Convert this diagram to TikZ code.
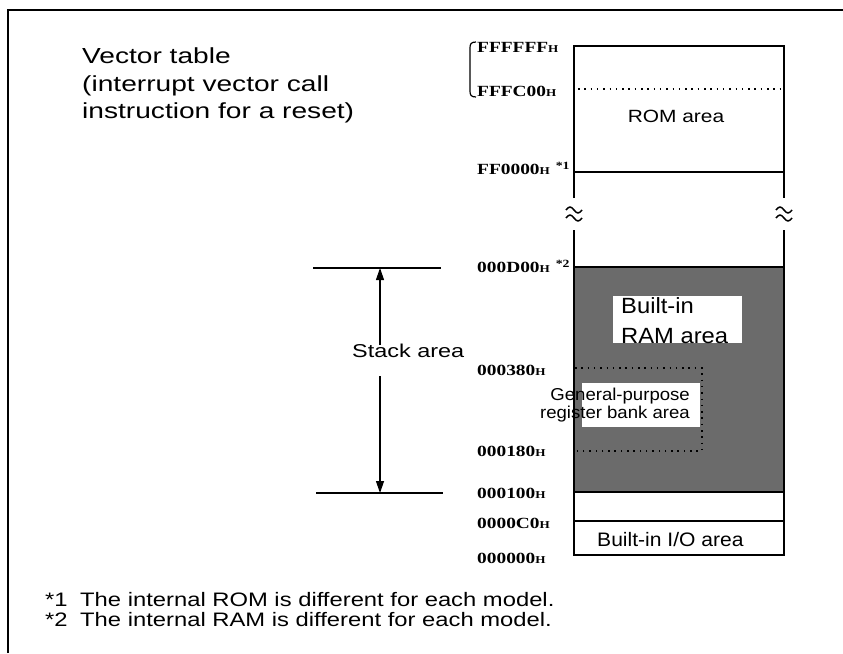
\documentclass[tikz,border=0pt]{standalone}
\usepackage{fontspec}
\setmainfont{Liberation Sans}
\newfontfamily\fVec[FakeStretch=1.29]{Liberation Sans}
\newfontfamily\fStack[FakeStretch=1.26]{Liberation Sans}
\newfontfamily\fRom[FakeStretch=1.18]{Liberation Sans}
\newfontfamily\fBox[FakeStretch=1.08]{Liberation Sans}
\newfontfamily\fNote[FakeStretch=1.22]{Liberation Sans}
\newfontfamily\fAddr[FakeStretch=1.25]{Liberation Serif Bold}
\usetikzlibrary{arrows.meta}
\newcommand{\hsub}{{\fontsize{10.5}{10.5}\selectfont H}}
\newcommand{\fnmark}[1]{\hspace{6pt}\raisebox{5pt}{\fontsize{11}{11}\selectfont *#1}}
\begin{document}
\begin{tikzpicture}[x=1pt,y=-1pt,
  lbl/.style={inner sep=0pt, anchor=base west},
  addr/.style={inner sep=0pt, anchor=base west, font=\fAddr\fontsize{15.5}{16}\selectfont},
  boxline/.style={line width=1.8pt},
  thinline/.style={line width=1.2pt},
  dotline/.style={line width=1.4pt, dash pattern=on 1.5pt off 4.8pt},
  arr/.style={line width=1.2pt, -{Triangle[length=12pt,width=8pt]}},
  wave/.style={line width=1.5pt}]
\useasboundingbox (0,0) rectangle (843,653);
% outer frame
\draw[line width=1.5pt] (8,653) -- (8,10) -- (843,10);

% gray RAM region
\fill[black!58] (574,267) rectangle (784,492);
\fill[white] (613,296) rectangle (742,343);
\fill[white] (582,383) rectangle (700,427);
\draw[dotline] (575,368) -- (702,368) -- (702,451) -- (575,451);

% memory box
\draw[boxline] (574,198) -- (574,46) -- (784,46) -- (784,198);
\draw[dotline] (578,89) -- (782,89);
\draw[thinline] (574,172) -- (784,172);
\draw[boxline] (574,230) -- (574,555) -- (784,555) -- (784,230);
\draw[boxline] (574,267) -- (784,267);
\draw[boxline] (574,492) -- (784,492);
\draw[thinline] (574,521) -- (784,521);

% break marks
\foreach \cx in {574,784}{
  \draw[wave] (\cx-8,210) sin (\cx-4,207) cos (\cx,210) sin (\cx+4,213) cos (\cx+8,210);
  \draw[wave] (\cx-8,218) sin (\cx-4,215) cos (\cx,218) sin (\cx+4,221) cos (\cx+8,218);
}

% bracket for vector table
\draw[line width=1.2pt] (476,42) .. controls (471,42) and (470,44) .. (470,48)
  -- (470,91) .. controls (470,95) and (471,97) .. (476,97);

% address labels
\node[addr] (aFFFFFF) at (477,52) {FFFFFF\hsub};
\node[addr] (aFFFC00) at (477,96) {FFFC00\hsub};
\node[addr] (aFF0000) at (477,174) {FF0000\hsub\fnmark{1}};
\node[addr] (a000D00) at (477,272) {000D00\hsub\fnmark{2}};
\node[addr] (a000380) at (477,375) {000380\hsub};
\node[addr] (a000180) at (477,456) {000180\hsub};
\node[addr] (a000100) at (477,498) {000100\hsub};
\node[addr] (a0000C0) at (477,528) {0000C0\hsub};
\node[addr] (a000000) at (477,563) {000000\hsub};

% area labels
\node[inner sep=0pt, anchor=base, font=\fRom\fontsize{17.7}{20}\selectfont] (rom) at (676,122) {ROM area};
\node[lbl, font=\fBox\fontsize{22}{26}\selectfont] (ram1) at (621,313) {Built-in};
\node[lbl, font=\fBox\fontsize{22}{26}\selectfont] (ram2) at (621,343) {RAM area};
\node[inner sep=0pt, anchor=base east, font=\fBox\fontsize{17.2}{18}\selectfont] (gp1) at (690,400) {General-purpose};
\node[inner sep=0pt, anchor=base east, font=\fBox\fontsize{17.2}{18}\selectfont] (gp2) at (690,418) {register bank area};
\node[lbl, font=\fBox\fontsize{19.5}{22}\selectfont] (io) at (597,546) {Built-in I/O area};

% vector table text
\node[lbl, font=\fVec\fontsize{21.8}{27.5}\selectfont] (vt1) at (82,63) {Vector table};
\node[lbl, font=\fVec\fontsize{21.8}{27.5}\selectfont] (vt2) at (82,91) {(interrupt vector call};
\node[lbl, font=\fVec\fontsize{21.8}{27.5}\selectfont] (vt3) at (82,118.5) {instruction for a reset)};

% stack area
\draw[thinline] (313,268) -- (441,268);
\draw[thinline] (316,493) -- (443,493);
\node[lbl, font=\fStack\fontsize{18.6}{22}\selectfont] (stack) at (352,357) {Stack area};
\coordinate (sTopA) at (380,345);
\coordinate (sTop) at (380,268);
\coordinate (sBotA) at (380,376);
\coordinate (sBot) at (380,493);
\draw[arr] (sTopA) -- (sTop);
\draw[arr] (sBotA) -- (sBot);

% footnotes
\node[lbl, font=\fNote\fontsize{19.5}{22}\selectfont] (fn1) at (45,606) {*1\hspace{12.5pt}The internal ROM is different for each model.};
\node[lbl, font=\fNote\fontsize{19.5}{22}\selectfont] (fn2) at (45,626) {*2\hspace{12.5pt}The internal RAM is different for each model.};
\end{tikzpicture}
\end{document}
